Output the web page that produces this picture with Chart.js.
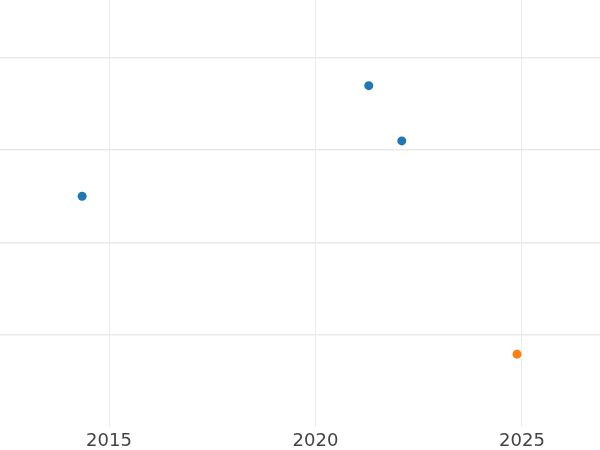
<!DOCTYPE html>
<html>
<head>
<meta charset="utf-8">
<script src="https://cdn.jsdelivr.net/npm/chart.js@4"></script>
<style>
html,body{margin:0;padding:0;background:#fff;}
#wrap{width:600px;height:450px;position:relative;}
</style>
</head>
<body>
<div id="wrap"><canvas id="c"></canvas></div>
<script>
const seriesAYears = [2014.35, 2021.29, 2022.09];
const seriesAValues = [25, 37, 31];
const seriesBYears = [2024.88];
const seriesBValues = [7.85];
const xTickLabels = [2015, 2020, 2025];

const toPts = (xs, ys) => xs.map((x, i) => ({x: x, y: ys[i]}));

new Chart(document.getElementById('c'), {
  type: 'scatter',
  data: {
    datasets: [
      {data: toPts(seriesAYears, seriesAValues), backgroundColor: '#1f77b4', borderColor: '#1f77b4', pointRadius: 4.5, borderWidth: 0},
      {data: toPts(seriesBYears, seriesBValues), backgroundColor: '#ff7f0e', borderColor: '#ff7f0e', pointRadius: 4.5, borderWidth: 0}
    ]
  },
  options: {
    responsive: true,
    maintainAspectRatio: false,
    animation: false,
    layout: {padding: 0, autoPadding: false},
    plugins: {legend: {display: false}, tooltip: {enabled: false}},
    scales: {
      x: {
        type: 'linear',
        min: 2012.36,
        max: 2026.89,
        afterBuildTicks: (axis) => { axis.ticks = xTickLabels.map(v => ({value: v})); },
        afterFit: (axis) => { axis.height = 23.5; },
        ticks: {includeBounds: false, color: '#444', font: {family: 'DejaVu Sans', size: 18}, padding: 4.5, callback: v => String(v), maxRotation: 0},
        grid: {color: '#ebebeb', drawTicks: false, lineWidth: 1},
        border: {display: false}
      },
      y: {
        min: 0,
        max: 46.3,
        ticks: {display: false, stepSize: 10, includeBounds: false},
        grid: {color: (ctx) => (ctx.tick && ctx.tick.value === 0) ? 'rgba(0,0,0,0)' : '#e9e9e9', drawTicks: false, lineWidth: 1.5},
        border: {display: false}
      }
    }
  }
});
</script>
</body>
</html>
